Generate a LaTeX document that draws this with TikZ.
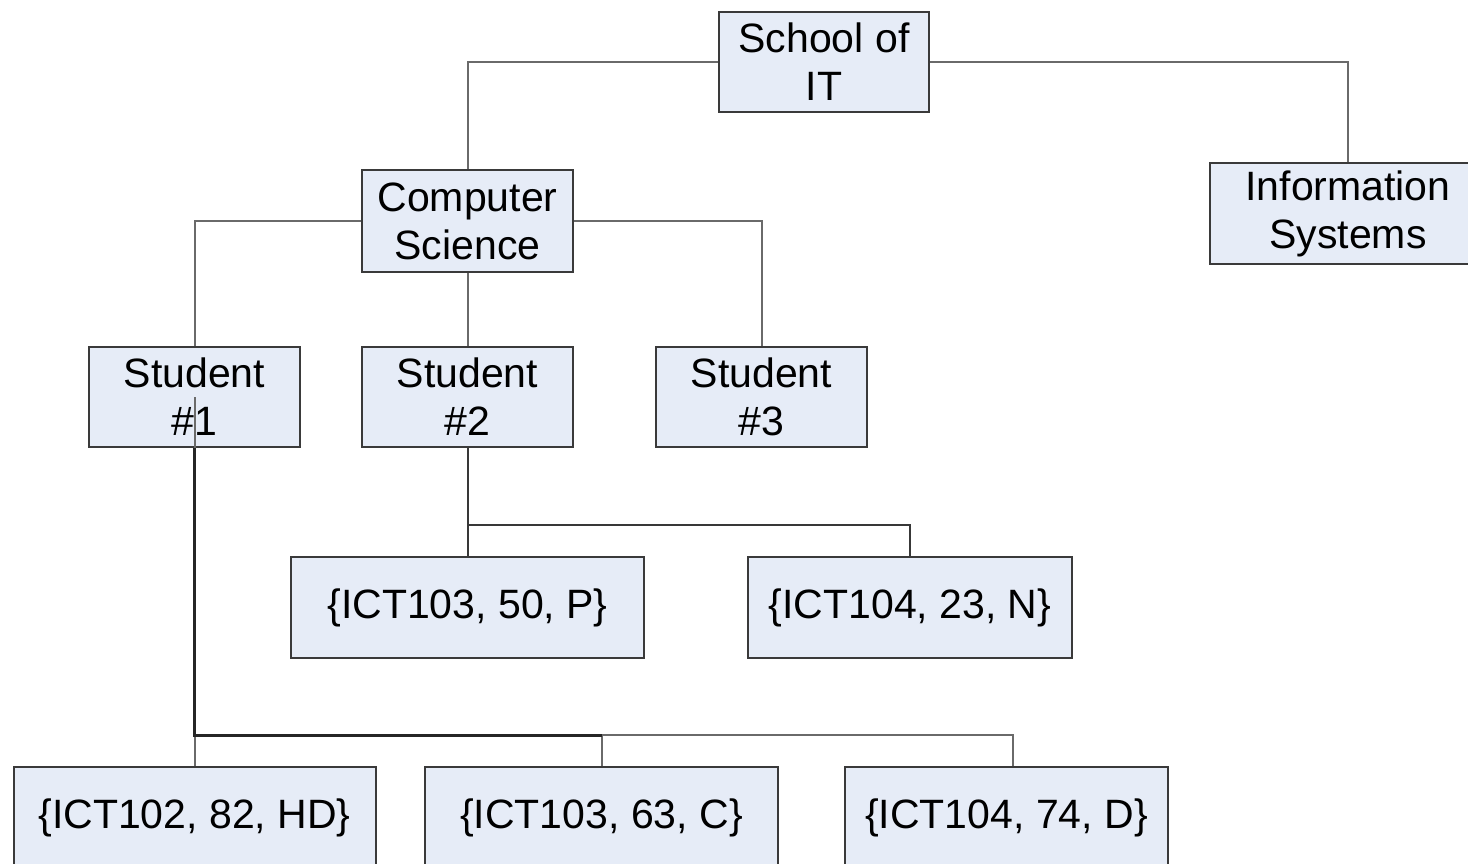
\documentclass[tikz,border=0pt]{standalone}
\usepackage{fontspec}
\setmainfont{Liberation Sans}
\definecolor{boxfill}{HTML}{E6ECF7}
\definecolor{boxline}{HTML}{3A3A3A}
\definecolor{connc}{HTML}{6A6A6A}
\begin{document}
\begin{tikzpicture}[x=1pt,y=-1pt,
  box/.style={draw=boxline, line width=2pt, fill=boxfill, inner sep=0pt, align=center,
    font=\fontsize{41}{48}\selectfont, minimum height=100pt},
  conn/.style={draw=connc, line width=2pt},
  darkconn/.style={draw=black!78, line width=2pt},
  strong/.style={draw=black!85, line width=3pt}]
\useasboundingbox (0,0) rectangle (1468,863);
\fill[white] (0,0) rectangle (1468,863);

\node[box, minimum width=210pt] (school) at (824,62) {School of\\IT};
\node[box, minimum width=211pt, minimum height=102pt] (cs) at (467.5,221) {Computer\\Science};
\node[box, minimum width=276pt, minimum height=101pt] (is) at (1348,213.5) {Information\\Systems};
\node[box, minimum width=211pt] (s1) at (194.5,397) {Student\\\#1};
\node[box, minimum width=211pt] (s2) at (467.5,397) {Student\\\#2};
\node[box, minimum width=211pt] (s3) at (761.5,397) {Student\\\#3};
\node[box, minimum width=353pt, minimum height=101pt] (g1) at (467.5,607.5) {\{ICT103, 50, P\}};
\node[box, minimum width=324pt, minimum height=101pt] (g2) at (910,607.5) {\{ICT104, 23, N\}};
\node[box, minimum width=362pt, minimum height=102pt] (h1) at (194.5,818) {\{ICT102, 82, HD\}};
\node[box, minimum width=353pt, minimum height=102pt] (h2) at (601.5,818) {\{ICT103, 63, C\}};
\node[box, minimum width=323pt, minimum height=102pt] (h3) at (1006.5,818) {\{ICT104, 74, D\}};

\draw[conn] (school.west) -| (cs.north);
\draw[conn] (school.east) -| (is.north);
\draw[conn] (cs.west) -| (s1.north);
\draw[conn] (cs.east) -| (s3.north);
\draw[conn] (cs.south) -- (s2.north);

\coordinate (b2) at (467.5,525);
\draw[darkconn] (s2.south) -- (b2) -| (g2.north);
\draw[darkconn] (b2) -- (g1.north);

\coordinate (b1) at (194.5,735);
\coordinate (b1m) at (601.5,735);
\draw[conn] (s1.center) -- (s1.south);
\draw[conn] (b1) -- (h1.north);
\draw[conn] (b1m) -- (h2.north);
\draw[conn] (b1m) -| ([xshift=6.5pt]h3.north);
\draw[strong] (s1.south) -- (b1) -- (b1m);
\end{tikzpicture}
\end{document}
